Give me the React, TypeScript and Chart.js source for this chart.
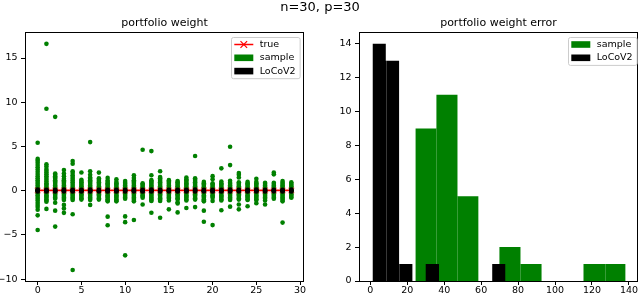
import React, { useEffect, useRef } from "react";
import { Chart, registerables } from "chart.js";

Chart.register(...registerables);

const FONT = "'DejaVu Sans', 'Liberation Sans', sans-serif";

// ---------------- data ----------------
const suptitle = "n=30, p=30";
const leftTitle = "portfolio weight";
const rightTitle = "portfolio weight error";

const assets = [0, 1, 2, 3, 4, 5, 6, 7, 8, 9, 10, 11, 12, 13, 14, 15, 16, 17, 18, 19, 20, 21, 22, 23, 24, 25, 26, 27, 28, 29];

const trueWeights = [0.033, 0.033, 0.033, 0.033, 0.033, 0.033, 0.033, 0.033, 0.033, 0.033, 0.033, 0.033, 0.033, 0.033, 0.033, 0.033, 0.033, 0.033, 0.033, 0.033, 0.033, 0.033, 0.033, 0.033, 0.033, 0.033, 0.033, 0.033, 0.033, 0.033];

const sampleWeights: number[][] = [
  [5.42, 3.6, 3.4, 3.15, 2.9, 2.65, 2.4, 2.15, 1.9, 1.65, 1.4, 1.2, 1.0, 0.8, 0.6, 0.4, 0.2, 0.05, -0.1, -0.3, -0.5, -0.7, -0.9, -1.1, -1.35, -1.6, -1.85, -2.15, -2.78, -4.44],
  [16.6, 9.26, 3.0, 2.75, 2.45, 2.25, 2.05, 1.85, 1.65, 1.45, 1.25, 1.05, 0.85, 0.7, 0.55, 0.4, 0.25, 0.1, -0.05, -0.2, -0.35, -0.5, -0.65, -0.8, -0.95, -1.1, -1.25, -2.05],
  [8.35, 1.95, 1.8, 1.65, 1.5, 1.35, 1.2, 1.05, 0.9, 0.75, 0.6, 0.45, 0.3, 0.15, 0.0, -0.15, -0.3, -0.45, -0.6, -0.75, -0.9, -1.35, -2.25, -4.05],
  [2.35, 1.95, 1.65, 1.35, 1.2, 1.05, 0.9, 0.75, 0.6, 0.45, 0.3, 0.15, 0.0, -0.15, -0.3, -0.45, -0.6, -0.75, -0.9, -1.05, -1.6, -2.0, -2.5],
  [3.35, 3.05, 2.2, 2.0, 1.75, 1.55, 1.35, 1.15, 0.95, 0.75, 0.55, 0.35, 0.15, 0.0, -0.15, -0.3, -0.45, -0.6, -0.75, -0.9, -1.05, -2.65, -8.95],
  [2.07, 1.25, 1.1, 0.95, 0.8, 0.65, 0.5, 0.35, 0.2, 0.05, -0.1, -0.25, -0.4, -0.55, -0.7, -0.85, -1.0],
  [5.5, 2.2, 1.8, 1.5, 1.35, 1.2, 1.05, 0.9, 0.75, 0.6, 0.45, 0.3, 0.15, 0.0, -0.15, -0.3, -0.45, -0.6, -0.75, -0.9, -1.05, -1.6],
  [2.05, 1.4, 1.25, 1.1, 0.95, 0.8, 0.65, 0.5, 0.35, 0.2, 0.05, -0.1, -0.25, -0.4, -0.55, -0.7, -0.85, -1.0],
  [1.45, 1.15, 1.0, 0.85, 0.7, 0.55, 0.4, 0.25, 0.1, -0.05, -0.2, -0.35, -0.5, -0.65, -0.8, -0.95, -1.1, -1.2, -2.93, -3.9],
  [1.3, 1.0, 0.85, 0.7, 0.55, 0.4, 0.25, 0.1, -0.05, -0.2, -0.35, -0.5, -0.65, -0.8, -0.95, -1.1, -1.2],
  [1.1, 0.9, 0.75, 0.6, 0.45, 0.3, 0.15, 0.0, -0.15, -0.3, -0.45, -0.6, -0.75, -0.9, -2.9, -3.55, -7.3],
  [1.75, 1.45, 1.2, 1.05, 0.9, 0.75, 0.6, 0.45, 0.3, 0.15, 0.0, -0.15, -0.3, -0.45, -0.6, -0.75, -0.9, -1.05, -1.2, -3.3],
  [4.63, 0.85, 0.7, 0.55, 0.4, 0.25, 0.1, -0.05, -0.2, -0.35, -0.5, -0.65, -0.8, -1.55],
  [4.48, 1.75, 1.2, 1.05, 0.9, 0.75, 0.6, 0.45, 0.3, 0.15, 0.0, -0.15, -0.3, -0.45, -0.6, -0.75, -0.9, -1.05, -1.15, -2.48],
  [2.2, 1.55, 1.4, 1.25, 1.1, 0.95, 0.8, 0.65, 0.5, 0.35, 0.2, 0.05, -0.1, -0.25, -0.4, -0.55, -0.7, -0.85, -1.0, -1.15, -3.05],
  [1.2, 1.05, 0.9, 0.75, 0.6, 0.45, 0.3, 0.15, 0.0, -0.15, -0.3, -0.45, -0.6, -0.75, -0.9, -1.1, -2.1],
  [1.1, 0.95, 0.8, 0.65, 0.5, 0.35, 0.2, 0.05, -0.1, -0.25, -0.4, -0.55, -0.7, -0.85, -1.0, -1.3, -1.45, -2.45],
  [1.5, 1.3, 1.15, 1.0, 0.85, 0.7, 0.55, 0.4, 0.25, 0.1, -0.05, -0.2, -0.35, -0.5, -0.65, -0.8, -0.95, -1.1, -1.95],
  [3.92, 1.4, 1.25, 1.1, 0.95, 0.8, 0.65, 0.5, 0.35, 0.2, 0.05, -0.1, -0.25, -0.4, -0.55, -0.7, -0.85, -1.0, -1.85],
  [1.0, 0.85, 0.7, 0.55, 0.4, 0.25, 0.1, -0.05, -0.2, -0.35, -0.5, -0.65, -0.8, -0.95, -1.1, -1.2, -2.25, -3.5],
  [1.65, 1.3, 0.85, 0.7, 0.55, 0.4, 0.25, 0.1, -0.05, -0.2, -0.35, -0.5, -0.65, -0.8, -1.15, -3.88],
  [2.53, 1.05, 0.85, 0.7, 0.55, 0.4, 0.25, 0.1, -0.05, -0.2, -0.35, -0.5, -0.65, -0.8, -0.95, -1.1, -2.2],
  [4.97, 2.9, 1.13, 0.9, 0.75, 0.6, 0.45, 0.3, 0.15, 0.0, -0.15, -0.3, -0.45, -0.6, -0.75, -0.9, -1.05, -1.8],
  [2.0, 1.8, 1.5, 0.95, 0.8, 0.65, 0.5, 0.35, 0.2, 0.05, -0.1, -0.25, -0.4, -0.55, -0.7, -0.85, -1.0, -1.55, -2.1],
  [1.0, 0.85, 0.7, 0.55, 0.4, 0.25, 0.1, -0.05, -0.2, -0.35, -0.5, -0.65, -0.8, -0.95, -1.05, -1.75],
  [1.35, 1.0, 0.85, 0.7, 0.55, 0.4, 0.25, 0.1, -0.05, -0.2, -0.35, -0.5, -0.65, -0.8, -0.95, -1.05, -1.4],
  [0.9, 0.75, 0.6, 0.45, 0.3, 0.15, 0.0, -0.15, -0.3, -0.45, -0.6, -0.75, -0.9, -1.1, -1.55],
  [2.07, 1.85, 0.9, 0.75, 0.6, 0.45, 0.3, 0.15, 0.0, -0.15, -0.3, -0.45, -0.6, -0.75, -0.9],
  [1.1, 0.9, 0.75, 0.6, 0.45, 0.3, 0.15, 0.0, -0.15, -0.3, -0.45, -0.6, -0.75, -0.9, -1.05, -1.2, -3.6],
  [0.95, 0.8, 0.65, 0.5, 0.35, 0.2, 0.05, -0.1, -0.25, -0.4, -0.55, -0.7, -0.8],
];

const locovWeights: number[][] = [
  [0.14, 0.06, -0.01, -0.08], [0.12, 0.05, -0.02, -0.09], [0.11, 0.04, -0.03, -0.08], [0.13, 0.05, -0.02, -0.07],
  [0.12, 0.06, -0.01, -0.08], [0.11, 0.04, -0.02, -0.09], [0.13, 0.05, -0.03, -0.08], [0.12, 0.04, -0.02, -0.07],
  [0.1, 0.05, -0.02, -0.08], [0.12, 0.03, -0.03, -0.09], [0.11, 0.05, -0.01, -0.08], [0.13, 0.06, -0.02, -0.07],
  [0.12, 0.04, -0.03, -0.08], [0.14, 0.05, -0.02, -0.09], [0.11, 0.04, -0.01, -0.08], [0.12, 0.05, -0.02, -0.07],
  [0.1, 0.04, -0.03, -0.08], [0.12, 0.05, -0.02, -0.09], [0.13, 0.06, -0.01, -0.08], [0.11, 0.04, -0.02, -0.07],
  [0.12, 0.05, -0.03, -0.08], [0.11, 0.04, -0.02, -0.09], [0.14, 0.06, -0.02, -0.08], [0.12, 0.05, -0.01, -0.07],
  [0.11, 0.04, -0.02, -0.08], [0.13, 0.05, -0.03, -0.09], [0.12, 0.04, -0.02, -0.08], [0.11, 0.05, -0.01, -0.07],
  [0.12, 0.06, -0.02, -0.08], [0.13, 0.05, -0.02, -0.09],
];

const sampleErrEdges = [24.4, 35.8, 47.2, 58.5, 69.9, 81.3, 92.7, 104.1, 115.4, 126.8, 138.2];
const sampleErrCounts = [9, 11, 5, 0, 2, 1, 0, 0, 1, 1];
const locovErrEdges = [1.2, 8.4, 15.6, 22.8, 30.0, 37.2, 44.4, 51.6, 58.8, 66.0, 73.2];
const locovErrCounts = [14, 13, 1, 0, 1, 0, 0, 0, 0, 1];

const leftXTicks = [0, 5, 10, 15, 20, 25, 30];
const leftYTicks = [-10, -5, 0, 5, 10, 15];
const rightXTicks = [0, 20, 40, 60, 80, 100, 120, 140];
const rightYTicks = [0, 2, 4, 6, 8, 10, 12, 14];

const GREEN = "#008000";
const BLACK = "#000000";
const RED = "#ff0000";

// ---------------- helpers ----------------
const fmt = (v: number) => (v < 0 ? "\u2212" + Math.abs(v) : String(v));

function histPoints(edges: number[], counts: number[]) {
  const pts = [{ x: edges[0], y: 0 }];
  counts.forEach((c, i) => pts.push({ x: edges[i], y: c }));
  pts.push({ x: edges[edges.length - 1], y: 0 });
  return pts;
}

const framePlugin = {
  id: "frame",
  afterDatasetsDraw(chart: any) {
    const { ctx, chartArea: a } = chart;
    ctx.save();
    ctx.strokeStyle = "#000";
    ctx.lineWidth = 1;
    ctx.strokeRect(Math.round(a.left) + 0.5, Math.round(a.top) + 0.5, Math.round(a.right - a.left) - 1, Math.round(a.bottom - a.top));
    ctx.restore();
  },
};

type LegendItem = { label: string; kind: "line" | "rect"; color: string };

function legendPlugin(items: LegendItem[], inset: number) {
  return {
    id: "mplLegend",
    afterDraw(chart: any) {
      const { ctx, chartArea } = chart;
      ctx.save();
      ctx.font = `9.5px ${FONT}`;
      const textW = Math.max(...items.map((it) => ctx.measureText(it.label).width));
      const rowH = 13.3;
      const w = 28.7 + textW + 4;
      const h = 14.6 + (items.length - 1) * rowH;
      const x0 = Math.round(chartArea.right - inset - w);
      const y0 = Math.round(chartArea.top + 5);
      ctx.beginPath();
      ctx.roundRect(x0 + 0.5, y0 + 0.5, w, h, 2);
      ctx.fillStyle = "rgba(255,255,255,0.8)";
      ctx.fill();
      ctx.strokeStyle = "#cccccc";
      ctx.lineWidth = 1;
      ctx.stroke();
      items.forEach((it, i) => {
        const cy = y0 + 7.5 + i * rowH;
        if (it.kind === "line") {
          ctx.strokeStyle = it.color;
          ctx.lineWidth = 1.5;
          ctx.beginPath();
          ctx.moveTo(x0 + 3.3, cy);
          ctx.lineTo(x0 + 22.3, cy);
          ctx.stroke();
          const cx = x0 + 12.8;
          const r = 3.3;
          ctx.lineWidth = 1.2;
          ctx.beginPath();
          ctx.moveTo(cx - r, cy - r);
          ctx.lineTo(cx + r, cy + r);
          ctx.moveTo(cx - r, cy + r);
          ctx.lineTo(cx + r, cy - r);
          ctx.stroke();
        } else {
          ctx.fillStyle = it.color;
          ctx.fillRect(x0 + 3.3, cy - 3.3, 19, 6.6);
        }
        ctx.fillStyle = "#000";
        ctx.textBaseline = "middle";
        ctx.textAlign = "left";
        ctx.fillText(it.label, x0 + 28.7, cy);
      });
      ctx.restore();
    },
  };
}

const histSeries = [
  { edges: locovErrEdges, counts: locovErrCounts },
  { edges: sampleErrEdges, counts: sampleErrCounts },
];

const seamPlugin = {
  id: "seams",
  afterDatasetDraw(chart: any, args: any) {
    const s = histSeries[args.index];
    if (!s) return;
    const { ctx } = chart;
    const xs = chart.scales.x;
    const ys = chart.scales.y;
    ctx.save();
    ctx.strokeStyle = "rgba(255,255,255,0.22)";
    ctx.lineWidth = 1;
    for (let i = 1; i < s.counts.length; i++) {
      const hgt = Math.min(s.counts[i - 1], s.counts[i]);
      if (hgt <= 0) continue;
      const px = Math.round(xs.getPixelForValue(s.edges[i])) + 0.5;
      ctx.beginPath();
      ctx.moveTo(px, ys.getPixelForValue(0));
      ctx.lineTo(px, ys.getPixelForValue(hgt));
      ctx.stroke();
    }
    ctx.restore();
  },
};

function axis(min: number, max: number, ticks: number[], isY: boolean, size: number) {
  return {
    type: "linear",
    min,
    max,
    afterBuildTicks: (s: any) => {
      s.ticks = ticks.map((v) => ({ value: v }));
    },
    afterFit: (s: any) => {
      if (isY) s.width = size;
      else s.height = size;
    },
    border: { display: false },
    grid: { display: true, drawOnChartArea: false, drawTicks: true, tickLength: 4, color: "#000", lineWidth: 1 },
    ticks: {
      font: { family: FONT, size: 9.5 },
      color: "#000",
      padding: isY ? 3.5 : 0,
      maxRotation: 0,
      autoSkip: false,
      callback: (v: any) => fmt(Number(v)),
    },
  };
}

function titleOpts(text: string) {
  return {
    display: true,
    text,
    fullSize: false,
    color: "#000",
    font: { family: FONT, size: 11, weight: "normal" },
    padding: { top: 16.8, bottom: 2 },
  };
}

function leftConfig(): any {
  const samplePts = sampleWeights.flatMap((col, i) => col.map((v) => ({ x: assets[i], y: v })));
  const locovPts = locovWeights.flatMap((col, i) => col.map((v) => ({ x: assets[i], y: v })));
  const truePts = trueWeights.map((v, i) => ({ x: assets[i], y: v }));
  return {
    type: "line",
    data: {
      datasets: [
        { label: "LoCoV2", data: locovPts, showLine: false, pointRadius: 2.3, pointBackgroundColor: BLACK, pointBorderWidth: 0 },
        {
          label: "true",
          data: truePts,
          borderColor: RED,
          borderWidth: 1.8,
          pointStyle: "crossRot",
          pointRadius: 4,
          pointBorderColor: "rgba(255,0,0,0.45)",
          pointBorderWidth: 1.5,
          pointBackgroundColor: "rgba(0,0,0,0)",
          fill: false,
          tension: 0,
        },
        { label: "sample", data: samplePts, showLine: false, pointRadius: 2.3, pointBackgroundColor: GREEN, pointBorderWidth: 0 },
      ],
    },
    options: {
      responsive: false,
      animation: false,
      events: [],
      devicePixelRatio: 1,
      layout: { padding: { left: 0, right: 16, top: 0, bottom: 0 } },
      scales: {
        x: axis(-1.45, 30.45, leftXTicks, false, 15),
        y: axis(-10.2, 17.94, leftYTicks, true, 25),
      },
      plugins: {
        legend: { display: false },
        tooltip: { enabled: false },
        title: titleOpts(leftTitle),
      },
    },
    plugins: [
      framePlugin,
      legendPlugin(
        [
          { label: "true", kind: "line", color: RED },
          { label: "sample", kind: "rect", color: GREEN },
          { label: "LoCoV2", kind: "rect", color: BLACK },
        ],
        4.7
      ),
    ],
  };
}

function rightConfig(): any {
  return {
    type: "line",
    data: {
      datasets: [
        {
          label: "LoCoV2",
          data: histPoints(locovErrEdges, locovErrCounts),
          stepped: true,
          fill: "origin",
          backgroundColor: BLACK,
          borderColor: "rgba(0,0,0,0)",
          borderWidth: 0,
          pointRadius: 0,
        },
        {
          label: "sample",
          data: histPoints(sampleErrEdges, sampleErrCounts),
          stepped: true,
          fill: "origin",
          backgroundColor: GREEN,
          borderColor: "rgba(0,0,0,0)",
          borderWidth: 0,
          pointRadius: 0,
        },
      ],
    },
    options: {
      responsive: false,
      animation: false,
      events: [],
      devicePixelRatio: 1,
      layout: { padding: { left: 0, right: 2, top: 0, bottom: 0 } },
      scales: {
        x: axis(-6.1, 144.9, rightXTicks, false, 15),
        y: axis(0, 14.7, rightYTicks, true, 39),
      },
      plugins: {
        legend: { display: false },
        tooltip: { enabled: false },
        title: titleOpts(rightTitle),
      },
    },
    plugins: [
      seamPlugin,
      framePlugin,
      legendPlugin(
        [
          { label: "sample", kind: "rect", color: GREEN },
          { label: "LoCoV2", kind: "rect", color: BLACK },
        ],
        1.3
      ),
    ],
  };
}

export default function App() {
  const leftRef = useRef<HTMLCanvasElement>(null);
  const rightRef = useRef<HTMLCanvasElement>(null);
  useEffect(() => {
    const l = new Chart(leftRef.current as HTMLCanvasElement, leftConfig());
    const r = new Chart(rightRef.current as HTMLCanvasElement, rightConfig());
    return () => {
      l.destroy();
      r.destroy();
    };
  }, []);
  return (
    <div style={{ position: "absolute", left: 0, top: 0, width: 640, height: 296, background: "#fff", overflow: "hidden" }}>
      <canvas ref={leftRef} width={320} height={296} style={{ position: "absolute", left: 0, top: 0, width: 320, height: 296 }} />
      <canvas ref={rightRef} width={320} height={296} style={{ position: "absolute", left: 320, top: 0, width: 320, height: 296 }} />
      <div
        style={{
          position: "absolute",
          left: 0,
          top: 0,
          width: 640,
          textAlign: "center",
          fontFamily: FONT,
          fontSize: 13,
          lineHeight: "13px",
          color: "#000",
          whiteSpace: "nowrap",
        }}
      >
        {suptitle}
      </div>
    </div>
  );
}
